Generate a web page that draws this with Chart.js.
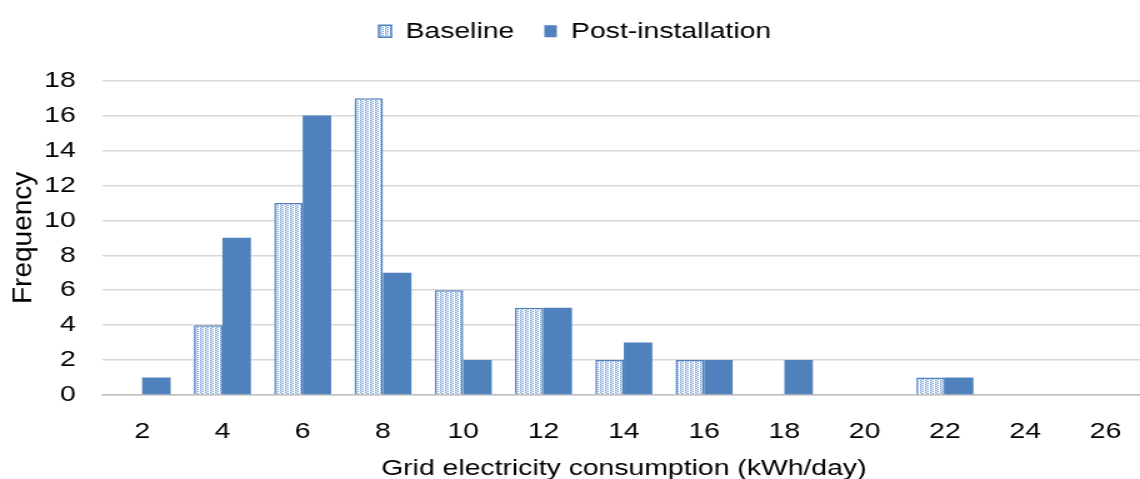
<!DOCTYPE html>
<html>
<head>
<meta charset="utf-8">
<script src="https://cdn.jsdelivr.net/npm/chart.js@4"></script>
<style>
html,body{margin:0;padding:0;background:#fff;overflow:hidden;}
#wrap{width:1140px;height:479px;overflow:hidden;position:relative;}
#c{position:absolute;left:0;top:0;transform:scaleX(1.25);transform-origin:0 0;}
</style>
</head>
<body>
<div id="wrap"><canvas id="c" width="920" height="479"></canvas></div>
<script>
const categories = ['2','4','6','8','10','12','14','16','18','20','22','24','26'];
const baseline = [0,4,11,17,6,5,2,2,0,0,1,0,0];
const postInstallation = [1,9,16,7,2,5,3,2,2,0,1,0,0];
const yTicks = [0,2,4,6,8,10,12,14,16,18];

const blue = '#4F81BD';
function makePattern(){
  const p = document.createElement('canvas');
  p.width = 4; p.height = 4;
  const g = p.getContext('2d');
  g.fillStyle = '#ffffff'; g.fillRect(0,0,4,4);
  g.fillStyle = '#c9d9ee'; g.fillRect(0,0,2,4);
  g.fillStyle = '#7fa3d4';
  g.fillRect(0,0,1,1); g.fillRect(2,1,1,1); g.fillRect(0,2,1,1); g.fillRect(2,3,1,1);
  return document.getElementById('c').getContext('2d').createPattern(p,'repeat');
}
const pat = makePattern();
const fam = '"Liberation Sans", Arial, sans-serif';
const font = {family:fam, size:22.7};

new Chart(document.getElementById('c'), {
  type:'bar',
  data:{
    labels:categories,
    datasets:[
      {label:'Baseline', data:baseline, backgroundColor:pat, borderColor:blue, borderWidth:1.5},
      {label:'Post-installation', data:postInstallation, backgroundColor:blue, borderColor:blue, borderWidth:0}
    ]
  },
  options:{
    responsive:false,
    animation:false,
    devicePixelRatio:1,
    layout:{padding:{left:0,right:0,top:-4,bottom:0}},
    datasets:{bar:{categoryPercentage:0.71, barPercentage:1.0}},
    plugins:{
      legend:{position:'top', weight:1000, labels:{font:font, color:'#000', boxWidth:10, boxHeight:12, padding:24}},
      subtitle:{display:true, text:'', position:'top', weight:500, font:{size:1,lineHeight:1}, padding:{top:27,bottom:0}},
      tooltip:{enabled:false}
    },
    scales:{
      x:{
        afterFit:(ax)=>{ax.height = 84;},
        grid:{display:false, drawTicks:false},
        border:{display:true, color:'#bfbfbf', width:1.5},
        ticks:{font:font, color:'#000', padding:23, maxRotation:0, autoSkip:false},
        title:{display:true, text:'Grid electricity consumption (kWh/day)', font:{family:fam,size:22.7,lineHeight:0.9}, color:'#000', padding:{top:0,bottom:0}}
      },
      y:{
        min:0, max:18,
        afterFit:(ax)=>{ax.width = 81.6;},
        afterBuildTicks:(ax)=>{ax.ticks = yTicks.map(v=>({value:v}));},
        afterUpdate:(ax)=>{
          if(!ax._unstretch){
            const orig = ax.drawTitle.bind(ax);
            ax.drawTitle = function(){ const c = ax.ctx; c.save(); c.scale(0.8,1); orig(); c.restore(); };
            ax._unstretch = true;
          }
        },
        grid:{color:'#d9d9d9', lineWidth:1.5, drawTicks:false},
        border:{display:false},
        ticks:{font:font, color:'#000', padding:21},
        title:{display:true, text:'Frequency', font:{family:fam,size:28,lineHeight:1}, color:'#000', padding:{top:9.5,bottom:0}}
      }
    }
  }
});
</script>
</body>
</html>
